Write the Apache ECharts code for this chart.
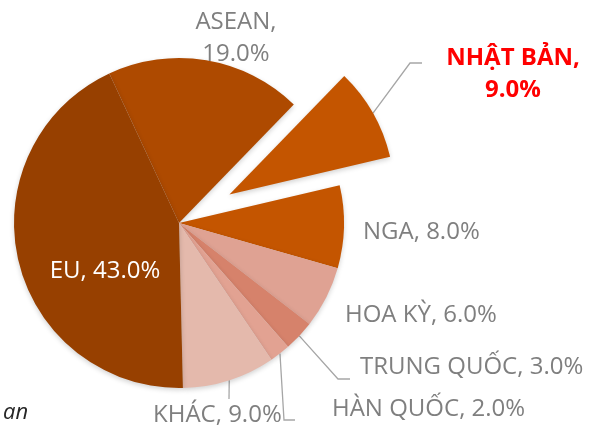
<!DOCTYPE html>
<html>
<head>
<meta charset="utf-8">
<script src="https://cdn.jsdelivr.net/npm/echarts@6/dist/echarts.min.js"></script>
<style>
    html, body { margin: 0; padding: 0; background: #fff; }
    #main { width: 593px; height: 429px; }
</style>
</head>
<body>
<div id="main"></div>
<script>
var names = ["ASEAN", "NHẬT BẢN", "NGA", "HOA KỲ", "TRUNG QUỐC", "HÀN QUỐC", "KHÁC", "EU"];
var values = [19, 9, 8, 6, 3, 2, 9, 43];
var colors = ["#AE4A00", "#C45500", "#C45500", "#DFA293", "#D6826B", "#E2A292", "#E4B9AC", "#974000"];
var wrapped = ["ASEAN", "NHẬT BẢN"];
var exploded = "NHẬT BẢN";

var cx = 179, cy = 223, radius = 165, startAngle = 115, explodeOffset = 58;

// where each label sits, and the bends of its leader line (if any)
var labelPos = {
    "ASEAN": { x: 236, y: 38, align: "center" },
    "NHẬT BẢN": { x: 513, y: 74, align: "center", bends: [[410, 63], [422, 63]] },
    "NGA": { x: 363, y: 232, align: "left" },
    "HOA KỲ": { x: 345, y: 315, align: "left" },
    "TRUNG QUỐC": { x: 360, y: 367, align: "left", bends: [[338, 379], [350, 379]] },
    "HÀN QUỐC": { x: 332, y: 409, align: "left", bends: [[284, 420], [295, 420]] },
    "KHÁC": { x: 153, y: 415, align: "left", bends: [[229, 399]] },
    "EU": { x: 105, y: 271, align: "center" }
};

var total = values.reduce(function (a, b) { return a + b; }, 0);

function midAngle(i) {
    var before = 0;
    for (var j = 0; j < i; j++) before += values[j];
    return (startAngle - (before + values[i] / 2) / total * 360) * Math.PI / 180;
}

// pulled-out slice gets its own centre, moved along its middle direction
var exIdx = names.indexOf(exploded);
var exCx = cx + explodeOffset * Math.cos(midAngle(exIdx));
var exCy = cy - explodeOffset * Math.sin(midAngle(exIdx));

// point on the outer edge at the middle of slice i
function edgePoint(i) {
    var a = midAngle(i);
    var x0 = i === exIdx ? exCx : cx;
    var y0 = i === exIdx ? exCy : cy;
    return [x0 + radius * Math.cos(a), y0 - radius * Math.sin(a)];
}

function buildData(showExploded) {
    return names.map(function (name, i) {
        var visible = (name === exploded) === showExploded;
        var item = {
            name: name,
            value: values[i],
            itemStyle: visible ? { color: colors[i] } : { color: "rgba(0,0,0,0)", shadowBlur: 0, shadowColor: "rgba(0,0,0,0)" },
            label: { show: visible },
            labelLine: { show: visible && !!labelPos[name].bends }
        };
        if (name === exploded) {
            item.label.color = "#FF0000";
            item.label.fontWeight = "bold";
        }
        if (name === "EU") {
            item.label.color = "#FFFFFF";
        }
        return item;
    });
}

var chart = echarts.init(document.getElementById("main"));

var pieBase = {
    type: "pie",
    radius: radius,
    startAngle: startAngle,
    clockwise: true,
    avoidLabelOverlap: false,
    silent: true,
    itemStyle: {
        borderWidth: 0,
        shadowBlur: 5,
        shadowOffsetY: 2,
        shadowColor: "rgba(0,0,0,0.18)"
    },
    label: {
        position: "outside",
        fontSize: 24,
        lineHeight: 32,
        color: "#7F7F7F",
        fontFamily: "'Open Sans', sans-serif",
        formatter: function (p) {
            var sep = wrapped.indexOf(p.name) >= 0 ? ",\n" : ", ";
            return p.name + sep + p.value.toFixed(1) + "%";
        }
    },
    labelLine: {
        lineStyle: { color: "#A6A6A6", width: 1.3 }
    },
    labelLayout: function (params) {
        var i = params.dataIndex;
        var pos = labelPos[names[i]];
        var out = {
            x: pos.x,
            y: pos.y,
            align: pos.align,
            verticalAlign: "middle"
        };
        if (pos.bends) {
            out.labelLinePoints = [edgePoint(i)].concat(pos.bends);
        }
        return out;
    }
};

var option = {
    textStyle: {
        fontFamily: "'Open Sans', sans-serif"
    },
    animation: false,
    graphic: [{
        type: "text",
        left: 3,
        top: 402,
        style: {
            text: "an",
            fontFamily: "'Open Sans', sans-serif",
            fontStyle: "italic",
            fontSize: 22,
            fill: "#262626"
        }
    }],
    series: [
        Object.assign({}, pieBase, { center: [cx, cy], data: buildData(false) }),
        Object.assign({}, pieBase, { center: [exCx, exCy], data: buildData(true) })
    ]
};

chart.setOption(option);
</script>
</body>
</html>
